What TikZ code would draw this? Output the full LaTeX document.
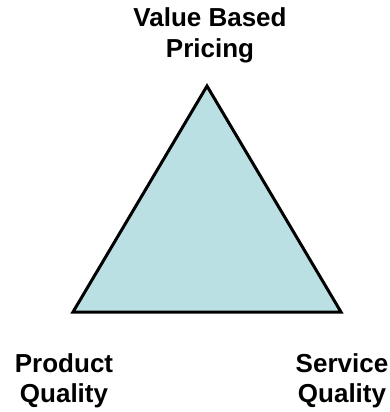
\documentclass[tikz,border=0pt]{standalone}
\usepackage{fontspec}
\setmainfont{Liberation Sans}
\definecolor{trifill}{RGB}{187,224,227}
\begin{document}
\begin{tikzpicture}[x=1pt,y=-1pt,
  lbl/.style={font=\bfseries\fontsize{26}{30}\selectfont,align=center,inner sep=0pt,anchor=base}]
\useasboundingbox (0,0) rectangle (390,412);
\coordinate (apex) at (207,86);
\coordinate (bl) at (73,312);
\coordinate (br) at (341,312);
\draw[line width=3pt,line join=miter,fill=trifill] (apex) -- (br) -- (bl) -- cycle;
\node[lbl] (vbp) at (210,57) {Value Based\\Pricing};
\node[lbl] (pq) at (64,402) {Product\\Quality};
\node[lbl] (sq) at (342,402) {Service\\Quality};
\end{tikzpicture}
\end{document}
